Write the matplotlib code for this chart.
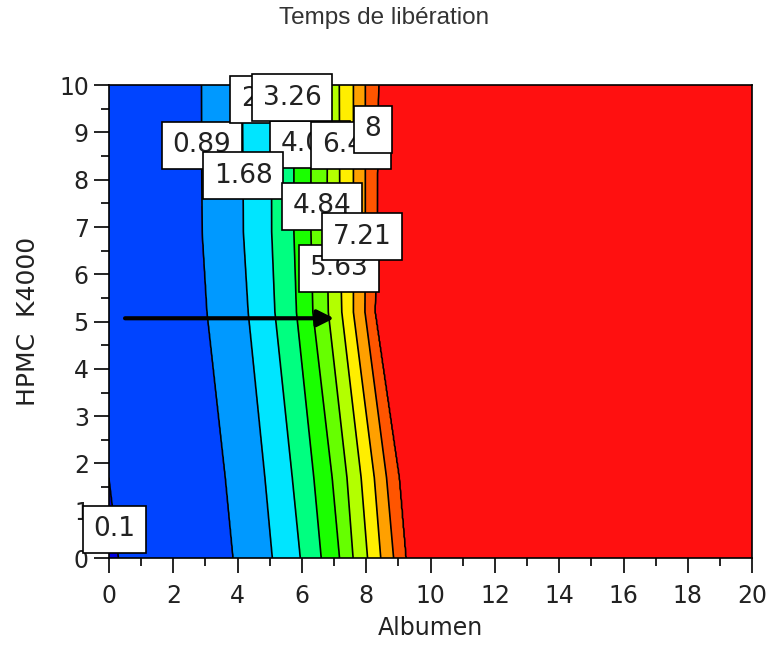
import numpy as np
import matplotlib
matplotlib.use('Agg')
import matplotlib.pyplot as plt
from matplotlib.ticker import MultipleLocator

# contour levels of the release time
levels = [0.1, 0.89, 1.68, 2.47, 3.26, 4.05, 4.84, 5.63, 6.42, 7.21, 8.0]

# HPMC K4000 rows at which the Albumen crossing of each level was read
y_rows = [0.0, 1.7, 5.2, 6.9, 10.0]

# Albumen value where each level is crossed, one list per level (rows as y_rows)
crossings = [
    [0.30, 0.00, -0.50, -0.50, -0.50],
    [3.86, 3.62, 3.05, 2.90, 2.88],
    [5.08, 4.85, 4.33, 4.18, 4.15],
    [5.95, 5.70, 5.16, 5.06, 5.05],
    [6.60, 6.37, 5.83, 5.75, 5.75],
    [7.17, 6.94, 6.34, 6.28, 6.28],
    [7.59, 7.40, 6.82, 6.78, 6.80],
    [8.04, 7.84, 7.24, 7.18, 7.16],
    [8.45, 8.25, 7.60, 7.60, 7.60],
    [8.85, 8.63, 7.96, 7.97, 7.97],
    [9.23, 9.02, 8.27, 8.33, 8.38],
]

band_colors = ['#0000e0', '#0044ff', '#0099ff', '#00e5ff', '#00ff80', '#1aff00',
               '#66ff00', '#b3ff00', '#ffee00', '#ffa000', '#ff5500', '#ff1010']

# label text and position (Albumen, HPMC) in drawing order
label_text = ['0.1', '0.89', '2.47', '4.05', '1.68', '3.26', '6.42', '8', '4.84', '5.63', '7.21']
label_x = [0.16, 2.89, 5.01, 6.25, 4.17, 5.69, 7.53, 8.21, 6.63, 7.15, 7.87]
label_y = [0.61, 8.73, 9.70, 8.75, 8.08, 9.73, 8.73, 9.07, 7.44, 6.13, 6.79]

# build the field on a fine grid from the level crossings
xg = np.linspace(0, 20, 801)
yg = np.linspace(0, 10, 401)
cross = np.array(crossings)
Z = np.zeros((len(yg), len(xg)))
for j, yv in enumerate(yg):
    xs = [np.interp(yv, y_rows, row) for row in cross]
    Z[j] = np.interp(xg, [-1.0] + xs + [20.0], [0.0] + levels + [10.0])

plt.rcParams['font.family'] = 'DejaVu Sans'
fig = plt.figure(figsize=(7.69, 6.5), dpi=100)
ax = fig.add_axes([0.1417, 0.1415, 0.8365, 0.7275])

X, Y = np.meshgrid(xg, yg)
bounds = [-1.0] + levels + [11.0]
ax.contourf(X, Y, Z, levels=bounds, colors=band_colors)
ax.contour(X, Y, Z, levels=levels, colors='black', linewidths=1.2)

for t, lx, ly in zip(label_text, label_x, label_y):
    ax.text(lx, ly, t, fontsize=19, ha='center', va='center', zorder=5, color='#222222',
            bbox=dict(boxstyle='square,pad=0.4', fc='white', ec='black', lw=1.2))

# arrow across the band structure
ax.annotate('', xy=(7.0, 5.07), xytext=(0.5, 5.07),
            arrowprops=dict(arrowstyle='-|>,head_length=1.0,head_width=0.5',
                            color='black', lw=3.0, shrinkA=0, shrinkB=0),
            zorder=6)

ax.set_xlim(0, 20)
ax.set_ylim(0, 10)
ax.xaxis.set_major_locator(MultipleLocator(2))
ax.xaxis.set_minor_locator(MultipleLocator(1))
ax.yaxis.set_major_locator(MultipleLocator(1))
ax.yaxis.set_minor_locator(MultipleLocator(0.5))
ax.tick_params(which='major', direction='out', length=10.5, width=1.2, labelsize=17,
               labelcolor='#222222', pad=4)
ax.tick_params(axis='x', which='major', pad=8)
ax.tick_params(which='minor', direction='out', length=6, width=1.2)
for s in ax.spines.values():
    s.set_linewidth(1.2)

ax.set_xlabel('Albumen', fontsize=17, labelpad=6, color='#222222')
ax.set_ylabel('HPMC  K4000', fontsize=18, labelpad=14, color='#222222')
fig.suptitle('Temps de libération', fontsize=17.5, family='Liberation Sans',
             color='#333333', y=0.972, va='center')

plt.savefig('out.png', dpi=100)
